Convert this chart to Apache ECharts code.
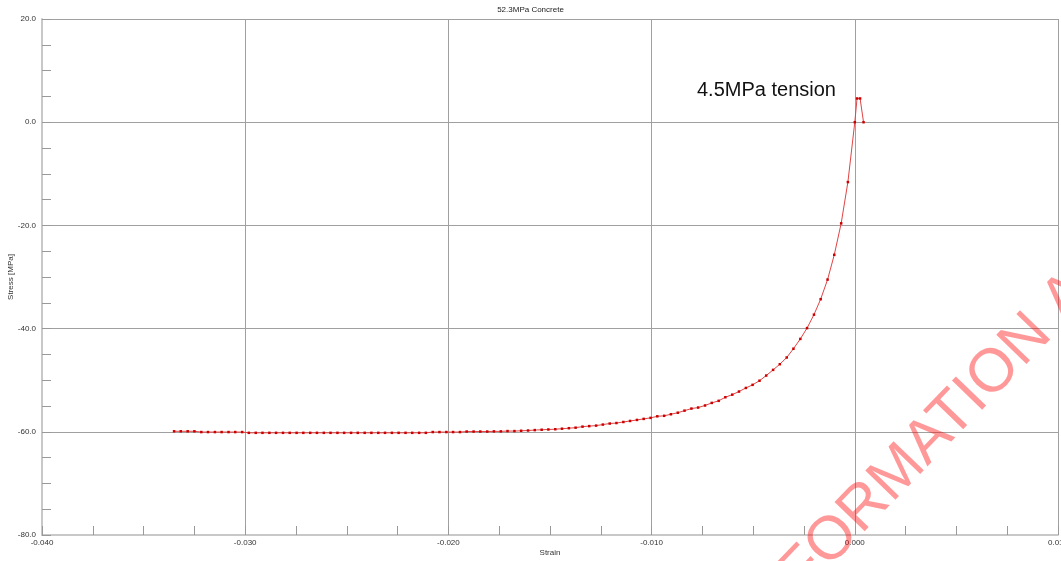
<!DOCTYPE html>
<html>
<head>
<meta charset="utf-8">
<script src="https://cdn.jsdelivr.net/npm/echarts@6/dist/echarts.min.js"></script>
<style>
html,body{margin:0;padding:0;background:#fff;}
#chart{width:1061px;height:561px;}
</style>
</head>
<body>
<div id="chart"></div>
<script>
const titleText = '52.3MPa Concrete';
const xName = 'Strain';
const yName = 'Stress [MPa]';
const annotationText = '4.5MPa tension';
const watermarkText = 'INFORMATION A';

const strain = [
  -0.03350, -0.03317, -0.03283, -0.03250, -0.03216, -0.03183, -0.03149, -0.03116, -0.03082, -0.03049,
  -0.03015, -0.02982, -0.02948, -0.02915, -0.02881, -0.02848, -0.02814, -0.02781, -0.02747, -0.02714,
  -0.02680, -0.02647, -0.02613, -0.02580, -0.02546, -0.02513, -0.02479, -0.02446, -0.02412, -0.02379,
  -0.02345, -0.02312, -0.02278, -0.02245, -0.02211, -0.02178, -0.02144, -0.02111, -0.02077, -0.02044,
  -0.02010, -0.01977, -0.01943, -0.01910, -0.01876, -0.01843, -0.01809, -0.01776, -0.01742, -0.01709,
  -0.01675, -0.01642, -0.01608, -0.01575, -0.01541, -0.01508, -0.01474, -0.01441, -0.01407, -0.01374,
  -0.01340, -0.01307, -0.01273, -0.01240, -0.01206, -0.01173, -0.01139, -0.01106, -0.01072, -0.01039,
  -0.01005, -0.00972, -0.00938, -0.00905, -0.00871, -0.00838, -0.00804, -0.00771, -0.00737, -0.00704,
  -0.00670, -0.00637, -0.00603, -0.00570, -0.00536, -0.00503, -0.00469, -0.00436, -0.00402, -0.00369,
  -0.00335, -0.00302, -0.00268, -0.00235, -0.00201, -0.00168, -0.00134, -0.00101, -0.00067, -0.00034,
  0.00000, 0.00011, 0.00026, 0.00043
];

const stress = [
  -59.9, -59.9, -59.9, -59.9,
  -60.05, -60.05, -60.05, -60.05, -60.05, -60.05, -60.05,
  -60.2, -60.2, -60.2, -60.2, -60.2, -60.2, -60.2, -60.2, -60.2,
  -60.2, -60.2, -60.2, -60.2, -60.2, -60.2, -60.2, -60.2, -60.2,
  -60.2, -60.2, -60.2, -60.2, -60.2, -60.2, -60.2, -60.2, -60.2,
  -60.05, -60.05, -60.05, -60.05, -60.05,
  -59.95, -59.95, -59.95, -59.95,
  -59.92, -59.92, -59.86, -59.86, -59.8, -59.75, -59.67, -59.6, -59.55, -59.5,
  -59.4, -59.3, -59.2, -59.0, -58.9, -58.8, -58.6, -58.4, -58.3, -58.1,
  -57.9, -57.7, -57.5, -57.3, -57.0, -56.9, -56.6, -56.3, -55.9, -55.5,
  -55.3, -54.9, -54.4, -54.0, -53.3, -52.8, -52.2, -51.5, -50.9, -50.1,
  -49.1, -48.0, -46.9, -45.6, -43.9, -42.0, -39.9, -37.3, -34.3, -30.5,
  -25.7, -19.6, -11.6,
  0.0, 4.6, 4.6, 0.0
];

const chart = echarts.init(document.getElementById('chart'), null, {renderer: 'canvas'});
const font = 'Liberation Sans, Arial, sans-serif';
const small = {fontSize: 8, color: '#333', fontFamily: font};

const option = {
  animation: false,
  backgroundColor: '#ffffff',
  title: {
    text: titleText, left: 'center', top: 1,
    textStyle: {fontSize: 8, fontWeight: 'normal', color: '#222', fontFamily: font}
  },
  grid: {left: 42, right: 3, top: 19, bottom: 26, containLabel: false, outerBoundsMode: 'none'},
  xAxis: {
    type: 'value', min: -0.04, max: 0.01, interval: 0.01,
    name: xName, nameLocation: 'middle', nameGap: 14, nameMoveOverlap: false, nameTextStyle: small,
    axisLine: {show: true, onZero: false, lineStyle: {color: '#c8c8c8', width: 2}},
    axisTick: {show: true, inside: true, length: 9, lineStyle: {color: '#999'}},
    minorTick: {show: true, splitNumber: 4, length: 9, lineStyle: {color: '#999'}},
    splitLine: {show: true, lineStyle: {color: '#a0a0a0', width: 1}},
    axisLabel: Object.assign({formatter: v => v.toFixed(3), margin: 4, showMinLabel: true, showMaxLabel: true}, small)
  },
  yAxis: {
    type: 'value', min: -80, max: 20, interval: 20,
    name: yName, nameLocation: 'middle', nameGap: 27, nameMoveOverlap: false, nameRotate: 90, nameTextStyle: small,
    axisLine: {show: true, onZero: false, lineStyle: {color: '#c8c8c8', width: 2}},
    axisTick: {show: true, inside: true, length: 9, lineStyle: {color: '#999'}},
    minorTick: {show: true, splitNumber: 4, length: 9, lineStyle: {color: '#999'}},
    splitLine: {show: true, lineStyle: {color: '#a0a0a0', width: 1}},
    axisLabel: Object.assign({formatter: v => v.toFixed(1), margin: 6, showMinLabel: true, showMaxLabel: true}, small)
  },
  series: [{
    type: 'line',
    data: strain.map((x, i) => [x, stress[i]]),
    symbol: 'rect', symbolSize: 2.5, showSymbol: true,
    lineStyle: {color: '#e04545', width: 1},
    itemStyle: {color: '#cc0000'},
    z: 5
  }],
  graphic: [
    {
      type: 'text', x: 697, y: 90, z: 20,
      style: {text: annotationText, fontSize: 20, fontFamily: font, fill: '#111', align: 'left', verticalAlign: 'middle'}
    },
    {
      type: 'text', x: 748, y: 628, rotation: 0.803, z: 30, silent: true,
      style: {text: watermarkText, fontSize: 61, fontFamily: font, fill: 'rgba(255,0,0,0.4)', align: 'left', verticalAlign: 'middle'}
    }
  ]
};
chart.setOption(option);
</script>
</body>
</html>
